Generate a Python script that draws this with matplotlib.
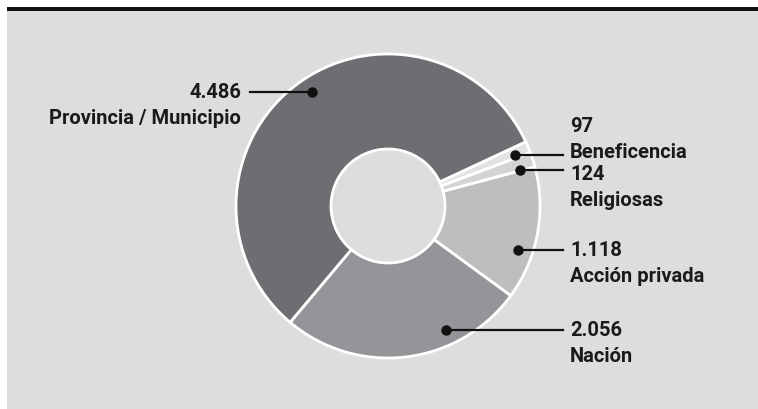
import numpy as np
import matplotlib
matplotlib.use("Agg")
import matplotlib.pyplot as plt
import matplotlib.patches as mpatches

plt.rcParams['font.family'] = ['Roboto', 'DejaVu Sans']

# data (clockwise from the upper right)
names = ['Beneficencia', 'Religiosas', 'Acción privada', 'Nación', 'Provincia / Municipio']
values = [97, 124, 1118, 2056, 4486]
colors = ['#e2e3e5', '#d2d4d5', '#bcbec0', '#939598', '#6d6e71']

# label layout in pixels (y from the top): dot y, text x, number y, alignment
label_dot_y = [156, 171, 251, 331, 93]
label_text_x = [570, 570, 570, 570, 241]
label_num_y = [127, 175, 251, 331, 93]
label_ha = ['left', 'left', 'left', 'left', 'right']

W, H = 758, 410
BG = '#dcdddf'
CX, CY, R, R_IN = 388, 207, 152, 57

fig = plt.figure(figsize=(W / 100, H / 100), dpi=100, facecolor='white')
ax = fig.add_axes([0, 0, 1, 1])

# panel + top rule
ax.add_patch(mpatches.Rectangle((7, 12), W - 7, H - 12, facecolor=BG, edgecolor='none', zorder=0))
ax.add_patch(mpatches.Rectangle((7, 8), W - 7, 4, facecolor='#111111', edgecolor='none', zorder=0))

# y axis is inverted, so counterclock=True draws clockwise on screen
ax.pie(values, colors=colors, startangle=-25, counterclock=True,
       center=(CX, CY), radius=R, frame=True,
       wedgeprops=dict(width=R - R_IN, edgecolor='white', linewidth=2))
ax.set_xlim(0, W)
ax.set_ylim(H, 0)
ax.set_aspect('equal')
ax.axis('off')

# labels with connector lines
r_dot = 137
for name, v, dy, tx, ny, ha in zip(names, values, label_dot_y, label_text_x, label_num_y, label_ha):
    off = dy - CY
    sign = 1 if ha == 'left' else -1
    dx = CX + sign * np.sqrt(r_dot ** 2 - off ** 2)
    line_end = tx - 7 if ha == 'left' else tx + 9
    ax.plot([dx, line_end], [dy, dy], color='#111111', lw=1.6, zorder=5)
    ax.plot(dx, dy, 'o', color='#111111', ms=6.5, zorder=6)
    num = f"{v:,}".replace(',', '.')
    ax.text(tx, ny, num, ha=ha, va='center', fontsize=14.5, fontweight='bold', color='#1a1a1a')
    ax.text(tx, ny + 26, name, ha=ha, va='center', fontsize=14.5, fontweight='bold', color='#1a1a1a')

fig.savefig('out.png', dpi=100, facecolor='white')
